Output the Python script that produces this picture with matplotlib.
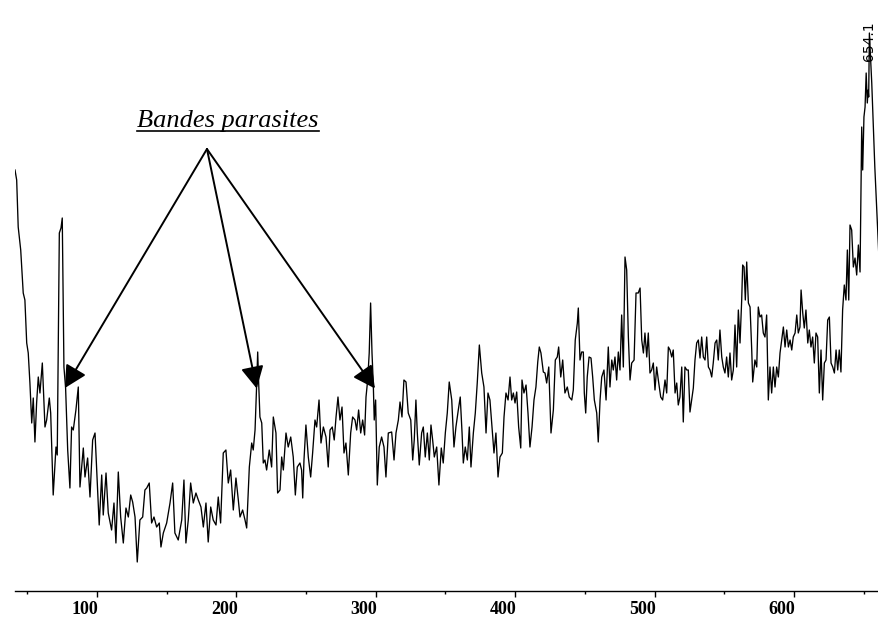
import matplotlib
matplotlib.use('Agg')
import matplotlib.pyplot as plt
from matplotlib.lines import Line2D
from matplotlib.ticker import MultipleLocator
from matplotlib.transforms import ScaledTranslation

# ---------------- data ----------------
wavenumber = [
    41.2, 42.4, 43.5, 45.3, 47.1, 48.3, 49.6, 50.7, 51.9, 53.2,
    54.3, 55.5, 56.7, 57.9, 59.1, 60.8, 62.7, 63.9, 65.8, 66.8,
    68.6, 70.6, 71.5, 73.0, 74.2, 75.1, 76.3, 77.5, 79.0, 80.6,
    81.8, 83.0, 84.9, 86.6, 87.8, 90.2, 91.4, 93.3, 95.0, 96.9,
    98.6, 99.8, 101.6, 103.4, 104.5, 106.5, 108.1, 110.5, 112.2, 113.6,
    115.3, 117.0, 118.9, 120.8, 122.5, 124.2, 125.6, 127.3, 128.9, 130.8,
    132.8, 134.4, 135.7, 137.5, 139.2, 140.9, 142.8, 144.7, 145.9, 147.6,
    150.0, 152.4, 154.3, 155.9, 158.3, 160.8, 162.4, 163.8, 165.5, 167.2,
    169.1, 171.0, 172.7, 174.6, 176.3, 178.2, 179.8, 181.6, 183.4, 185.4,
    187.0, 188.7, 190.6, 192.5, 194.2, 195.9, 197.8, 199.7, 201.4, 202.6,
    204.5, 206.2, 207.4, 209.3, 211.0, 212.1, 213.4, 214.6, 215.3, 216.0,
    216.9, 218.2, 219.3, 220.5, 221.7, 223.6, 225.3, 226.5, 228.4, 229.6,
    231.3, 232.5, 233.7, 235.6, 237.2, 239.0, 240.8, 242.3, 243.7, 245.6,
    246.8, 247.6, 248.5, 249.9, 251.6, 253.3, 254.7, 256.4, 257.6, 259.3,
    260.7, 262.4, 264.3, 265.9, 267.2, 268.8, 270.2, 271.5, 272.9, 274.3,
    275.8, 277.2, 278.6, 280.3, 282.0, 283.4, 285.1, 286.3, 287.7, 289.2,
    290.6, 292.0, 293.0, 294.2, 295.3, 296.3, 297.3, 298.2, 298.9, 299.9,
    301.1, 302.5, 304.2, 305.9, 307.3, 309.0, 311.4, 313.1, 314.5, 316.2,
    317.4, 318.8, 320.2, 321.7, 323.3, 325.1, 326.5, 327.6, 328.8, 329.8,
    331.2, 332.9, 334.1, 335.5, 337.0, 338.4, 339.6, 340.8, 342.0, 343.7,
    345.3, 347.0, 348.4, 349.9, 351.3, 352.7, 354.5, 356.1, 357.5, 359.2,
    360.6, 361.9, 362.8, 364.2, 365.7, 367.1, 368.3, 370.0, 371.4, 372.8,
    374.3, 376.0, 377.6, 379.1, 380.5, 381.9, 383.4, 384.8, 386.2, 387.7,
    389.1, 390.8, 392.0, 393.4, 394.9, 396.3, 397.5, 398.7, 399.9, 401.1,
    402.5, 404.0, 404.9, 406.3, 407.8, 409.2, 410.6, 412.1, 413.5, 414.9,
    416.2, 417.3, 418.5, 420.2, 421.4, 422.6, 424.1, 425.7, 427.4, 428.8,
    430.2, 431.2, 432.7, 434.1, 435.7, 437.4, 438.8, 440.6, 441.7, 443.1,
    444.6, 445.3, 446.5,
    447.7, 448.9, 449.6, 450.6, 451.7, 453.0, 454.4, 455.6, 456.8, 458.5,
    459.6, 460.9, 462.1, 463.7, 465.2, 466.8, 468.0, 469.3, 470.4, 471.6,
    472.8, 474.0, 475.2, 476.4, 477.6, 478.8, 480.0, 481.2, 482.4, 483.6,
    485.3, 486.7, 488.3, 489.6, 490.8, 492.0, 493.1, 494.4, 495.5, 496.7,
    497.9, 499.1, 500.3, 501.5, 502.7, 504.4, 505.8, 507.5, 508.7, 509.9,
    511.1, 512.3, 513.4, 514.7, 515.9, 517.0, 518.2, 519.5, 520.6, 521.8,
    523.1, 524.2, 525.4, 526.6, 527.8, 529.0, 530.2, 531.4, 532.6, 533.8,
    535.0, 536.2, 537.4, 538.6, 539.8, 541.0, 542.1, 543.4, 544.6, 545.7,
    546.9, 548.2, 549.3, 550.5, 551.7, 552.9, 554.1, 555.3, 556.5, 557.7,
    558.9, 560.1, 561.3, 562.5, 563.2, 564.2, 565.1, 566.1, 567.3, 568.5,
    569.7, 570.4, 572.0, 573.3, 574.4, 575.6, 576.8, 578.0, 579.2, 580.4,
    581.6, 582.8, 584.0, 585.2, 586.4, 587.6, 588.8, 590.0, 591.2, 592.4,
    593.6, 594.8, 596.0, 597.2, 598.4, 599.5, 600.8, 602.0, 603.1, 604.3,
    605.1, 606.3, 607.4, 608.6, 609.9, 611.0, 612.2, 613.4, 614.6, 615.8,
    617.0, 618.2, 619.4, 620.6, 621.8, 623.0, 624.2, 625.4, 626.6, 627.8,
    629.0, 630.2, 631.4, 632.5, 633.7, 634.9, 636.1, 637.3, 638.3, 639.3,
    640.2, 641.4, 642.6, 643.8, 645.0, 646.2, 647.4,
    648.6, 649.3, 650.2, 651.0, 651.8, 652.6, 653.2, 653.6, 654.1, 655.8,
    658.0, 660.8,
]

intensity = [
    84.2, 82.2, 72.8, 68.2, 59.6, 58.2, 49.6, 47.6, 41.6, 33.6,
    38.6, 29.8, 37.6, 42.8, 39.6, 45.6, 32.8, 34.2, 38.6, 35.6,
    19.2, 28.8, 27.2, 71.6, 72.6, 74.6, 44.8, 40.6, 28.2, 20.6,
    32.8, 32.2, 36.2, 40.8, 20.8, 28.6, 22.8, 26.6, 18.8, 30.2,
    31.6, 24.2, 13.2, 23.2, 15.2, 23.6, 15.6, 12.2, 17.6, 9.6,
    23.8, 14.8, 9.6, 16.6, 14.8, 19.2, 17.8, 14.8, 5.8, 14.2,
    14.8, 20.2, 20.6, 21.6, 13.6, 14.8, 12.8, 13.6, 8.8, 11.6,
    13.6, 17.6, 21.6, 11.6, 10.2, 14.2, 22.2, 9.6, 14.2, 21.6,
    17.6, 19.6, 18.2, 16.8, 12.8, 17.6, 9.8, 16.8, 14.2, 13.2,
    18.8, 13.6, 27.6, 28.2, 21.6, 24.2, 16.2, 22.6, 18.2, 14.8,
    16.2, 14.2, 12.6, 24.8, 29.6, 28.2, 32.2, 41.6, 47.8, 41.6,
    34.8, 33.6, 25.6, 26.2, 24.2, 28.2, 24.8, 34.8, 31.6, 19.6,
    20.2, 26.8, 24.2, 31.6, 28.8, 30.8, 26.8, 19.2, 24.8, 25.6,
    24.2, 18.6, 26.2, 33.2, 26.8, 22.8, 27.6, 34.2, 32.8, 38.2,
    29.6, 32.8, 30.8, 24.8, 32.2, 32.8, 30.2, 34.8, 38.8, 34.2,
    36.8, 27.6, 29.6, 23.2, 31.6, 34.8, 34.2, 32.2, 36.2, 31.6,
    34.2, 31.2, 38.8, 42.2, 47.6, 57.6, 47.6, 41.6, 34.2, 38.2,
    21.2, 28.8, 30.8, 28.8, 22.8, 31.6, 31.8, 26.2, 31.6, 34.2,
    37.8, 34.8, 42.2, 41.8, 35.6, 34.2, 26.2, 30.2, 38.2, 31.6,
    25.2, 31.6, 32.8, 26.8, 31.6, 26.2, 33.2, 30.2, 26.8, 28.8,
    21.2, 28.6, 25.6, 31.6, 35.6, 41.8, 38.2, 28.8, 32.8, 36.2,
    38.8, 31.6, 25.6, 28.8, 26.2, 32.8, 24.8, 31.6, 35.6, 41.6,
    49.2, 43.6, 40.8, 31.6, 39.6, 38.2, 32.8, 27.6, 31.6, 22.8,
    26.8, 27.6, 34.8, 39.6, 38.2, 42.8, 38.2, 39.6, 37.6, 39.8,
    32.8, 28.6, 42.2, 39.6, 41.2, 35.6, 28.8, 32.8, 38.2, 40.8,
    45.8, 48.8, 47.6, 43.8, 43.6, 41.6, 44.8, 31.6, 36.2, 46.2,
    46.8, 48.8, 42.8, 46.2, 39.6, 40.8, 38.8, 38.2, 40.2, 50.2,
    53.6, 56.6, 46.2,
    47.8, 47.8, 39.6, 35.6, 42.8, 46.8, 46.6, 42.8, 38.2, 35.6,
    29.8, 38.2, 42.8, 44.2, 38.2, 48.8, 40.8, 46.2, 44.2, 46.8,
    42.2, 47.8, 44.2, 55.2, 44.8, 66.8, 64.2, 50.8, 42.2, 45.6,
    46.2, 59.6, 59.6, 60.6, 50.2, 47.6, 51.6, 46.8, 51.6, 43.6,
    44.2, 45.6, 40.2, 44.8, 42.2, 38.8, 38.2, 42.2, 39.6, 48.8,
    48.2, 46.8, 48.2, 39.6, 41.6, 37.2, 38.8, 44.8, 33.8, 44.8,
    44.2, 44.2, 35.8, 38.2, 40.6, 46.2, 49.6, 50.2, 46.6, 50.8,
    46.8, 46.2, 50.8, 44.8, 44.2, 42.8, 45.6, 49.6, 50.2, 46.2,
    52.2, 46.8, 44.8, 43.6, 46.8, 42.8, 47.6, 42.2, 44.2, 53.2,
    44.8, 56.2, 49.6, 58.2, 65.2, 64.8, 58.2, 65.8, 57.6, 56.8,
    48.2, 41.8, 46.2, 44.8, 56.8, 54.8, 55.2, 51.6, 50.8, 55.2,
    38.2, 44.8, 39.6, 44.8, 40.8, 44.8, 42.8, 47.6, 50.2, 52.8,
    48.8, 52.2, 48.8, 50.2, 48.2, 50.8, 51.6, 55.2, 51.6, 52.8,
    60.2, 55.6, 52.6, 56.2, 49.6, 52.2, 48.8, 50.8, 45.6, 51.6,
    50.8, 39.6, 48.2, 38.2, 45.6, 46.2, 54.2, 54.8, 45.6, 44.8,
    43.6, 48.2, 44.2, 48.2, 43.8, 56.2, 61.2, 58.2, 68.2, 58.2,
    73.2, 72.2, 64.8, 66.6, 63.2, 69.2, 63.8,
    92.8, 84.2, 94.8, 96.8, 103.6, 97.6, 100.2, 98.8, 111.6, 101.6,
    84.8, 67.6,
]

major_ticks = [100, 200, 300, 400, 500, 600]
tick_labels = ["100", "200", "300", "400", "500", "600"]

peak_x = 654.1
peak_label = "654.1"

annotation_text = "Bandes parasites"
arrow_origin = (178.9, 88.4)
arrow_targets = [(77.0, 40.6), (214.6, 40.5), (299.4, 40.5)]

# ---------------- figure ----------------
fig = plt.figure(figsize=(8.79, 6.17), dpi=100)
ax = fig.add_axes([15 / 879, 26 / 617, 864 / 879, 591 / 617])

ax.plot(wavenumber, intensity, color='black', lw=0.95)

ax.set_xlim(41.2, 661.0)
ax.set_ylim(0, 118.2)

for s in ['top', 'left', 'right']:
    ax.spines[s].set_visible(False)
ax.spines['bottom'].set_linewidth(1.0)
ax.set_yticks([])

ax.set_xticks(major_ticks)
ax.set_xticklabels(tick_labels, fontfamily='Liberation Serif',
                   fontweight='bold', fontsize=13)
ax.xaxis.set_minor_locator(MultipleLocator(50))
ax.tick_params(axis='x', which='major', length=4.3, width=1.0,
               direction='out', pad=3)
ax.tick_params(axis='x', which='minor', length=2.5, width=1.0,
               direction='out')

# tick labels sit just left of their tick (right edge at the tick)
offset = ScaledTranslation(1.5 / 100, 0, fig.dpi_scale_trans)
for lab in ax.get_xticklabels():
    lab.set_horizontalalignment('right')
    lab.set_transform(lab.get_transform() + offset)

# peak label
ax.text(peak_x - 0.5, 106.0, peak_label, rotation=90, ha='center', va='bottom',
        fontsize=10, fontfamily='DejaVu Sans', color='black')

# annotation text
txt = ax.text(194.0, 92.8, annotation_text, ha='center', va='baseline',
              fontsize=19, fontfamily='Liberation Serif', fontstyle='italic',
              color='black')

# arrows
for tx, ty in arrow_targets:
    ax.annotate('', xy=(tx, ty), xytext=arrow_origin,
                arrowprops=dict(arrowstyle='-|>,head_length=13.5,head_width=7',
                                mutation_scale=1, lw=1.4, color='black',
                                shrinkA=0, shrinkB=0))

# underline under the annotation text
fig.canvas.draw()
bb = txt.get_window_extent()
inv = ax.transData.inverted()
x0 = inv.transform((bb.x0, 0))[0]
x1 = inv.transform((bb.x1, 0))[0]
ax.add_line(Line2D([x0, x1], [92.0, 92.0], color='black', lw=1.2))

fig.savefig('out.png', dpi=100)
